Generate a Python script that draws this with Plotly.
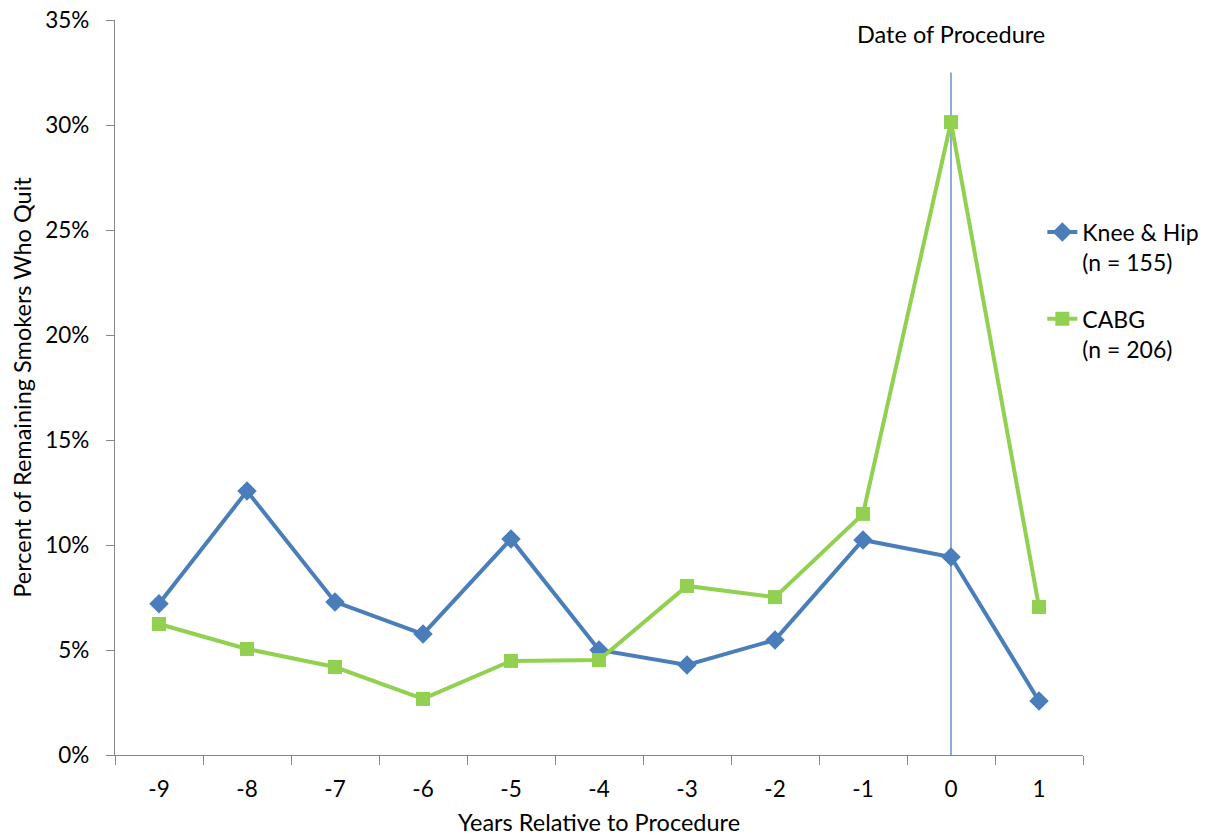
import plotly.graph_objects as go

years = [-9, -8, -7, -6, -5, -4, -3, -2, -1, 0, 1]
knee_hip = [7.2, 12.57, 7.29, 5.76, 10.29, 5.0, 4.29, 5.48, 10.24, 9.43, 2.57]
cabg = [6.24, 5.05, 4.19, 2.67, 4.48, 4.52, 8.05, 7.52, 11.48, 30.14, 7.05]
y_ticks = [0, 5, 10, 15, 20, 25, 30, 35]
y_tick_text = ["0%", "5%", "10%", "15%", "20%", "25%", "30%", "35%"]
procedure_year = 0
procedure_line_top = 32.5

FONT = "Lato, 'Open Sans', sans-serif"

fig = go.Figure()
fig.add_trace(go.Scatter(
    x=years, y=knee_hip, mode="lines+markers", name="Knee & Hip<br>(n = 155)",
    line=dict(color="#4A7EBB", width=4),
    marker=dict(symbol="diamond", size=15, color="#4A7EBB"),
    legendgroup="a",
))
fig.add_trace(go.Scatter(
    x=years, y=cabg, mode="lines+markers", name="CABG<br>(n = 206)",
    line=dict(color="#92D050", width=4),
    marker=dict(symbol="square", size=14, color="#92D050"),
    legendgroup="b",
))

fig.add_shape(type="line", x0=procedure_year, x1=procedure_year, y0=0, y1=procedure_line_top,
              xref="x", yref="y", line=dict(color="#4472C4", width=1.2), layer="below")
fig.add_annotation(x=procedure_year, y=0.981, xref="x", yref="paper", text="Date of Procedure",
                   showarrow=False, font=dict(size=23.5, color="#000000", family=FONT),
                   xanchor="center", yanchor="middle")

boundaries = [v + 0.5 for v in range(-10, 2)]
fig.update_xaxes(
    range=[-9.5, 1.5], tickvals=years, ticktext=[str(v) for v in years],
    ticks="", showgrid=False, zeroline=False, automargin=False, ticklabeloverflow="allow",
    showline=True, linecolor="#868686", linewidth=1.3,
    tickfont=dict(size=22.5, color="#000000", family=FONT), ticklabelstandoff=14,
    title=dict(text="Years Relative to Procedure", font=dict(size=23.5, color="#000000", family=FONT), standoff=13),
    minor=dict(tickvals=boundaries, ticks="outside", ticklen=9, tickcolor="#868686", tickwidth=1.3, showgrid=False),
)
fig.update_yaxes(
    range=[0, 35], tickvals=y_ticks, ticktext=y_tick_text,
    ticks="outside", ticklen=8, tickcolor="#868686", tickwidth=1.3,
    showgrid=False, zeroline=False, automargin=False, ticklabeloverflow="allow",
    showline=True, linecolor="#868686", linewidth=1.3,
    tickfont=dict(size=22.5, color="#000000", family=FONT), ticklabelstandoff=12,
    title=dict(text="Percent of Remaining Smokers Who Quit", font=dict(size=23.5, color="#000000", family=FONT), standoff=14),
)

fig.update_layout(
    width=1208, height=837,
    margin=dict(l=107, r=131, t=12, b=90),
    paper_bgcolor="white", plot_bgcolor="white",
    showlegend=True,
    legend=dict(x=0.958, y=0.7407, xanchor="left", yanchor="top", valign="top",
                font=dict(size=23, color="#000000", family=FONT),
                tracegroupgap=24, bgcolor="rgba(0,0,0,0)", itemwidth=30),
)

fig.write_html("out.html")
